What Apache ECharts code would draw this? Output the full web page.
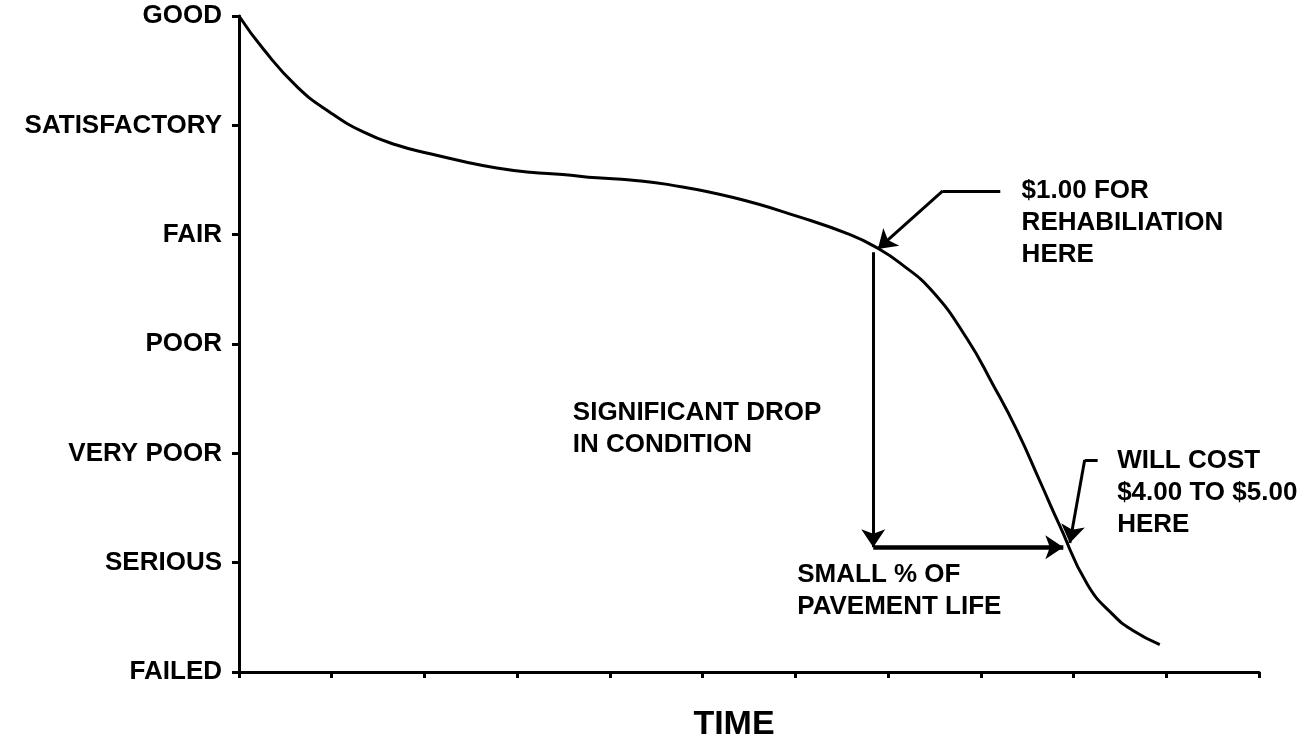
<!DOCTYPE html>
<html>
<head>
<meta charset="utf-8">
<script src="https://cdn.jsdelivr.net/npm/echarts@6/dist/echarts.min.js"></script>
<style>
html,body{margin:0;padding:0;background:#fff;}
#c{width:1309px;height:740px;}
</style>
</head>
<body>
<div id="c"></div>
<script>
// Condition levels (y = 0 .. 6)
const conditionLabels = ['FAILED', 'SERIOUS', 'VERY POOR', 'POOR', 'FAIR', 'SATISFACTORY', 'GOOD'];
// Time axis ticks 0..11 (no labels)
const timeMin = 0, timeMax = 11;

// Pavement condition curve [time, condition]
const curveTime = [0, 0.26, 0.63, 0.98, 1.34, 1.70, 2.06, 2.42, 2.78, 3.14, 3.49, 3.86, 4.22, 4.62, 5.33, 6.05, 6.59, 6.88, 7.13, 7.48, 7.85, 8.13, 8.39, 8.64, 8.85, 9.15, 9.43, 9.64, 9.93];
const curveCond = [6.00, 5.70, 5.35, 5.12, 4.94, 4.82, 4.74, 4.67, 4.61, 4.57, 4.55, 4.52, 4.50, 4.46, 4.34, 4.16, 4.00, 3.88, 3.74, 3.48, 3.05, 2.63, 2.21, 1.74, 1.34, 0.80, 0.52, 0.38, 0.25];

// Annotation arrows (polylines in data units, arrowhead at the last point)
const arrowRehab = [[8.21, 4.40], [7.59, 4.40], [6.89, 3.87]];
const arrowDrop = [[6.84, 3.84], [6.84, 1.14]];
const arrowLife = [[6.84, 1.14], [8.89, 1.14]];
const arrowCost = [[9.26, 1.94], [9.12, 1.94], [8.96, 1.18]];

// Annotation texts [time, condition, text] (left edge, vertical middle of the block)
const notes = [
  [3.60, 2.22, 'SIGNIFICANT DROP\nIN CONDITION'],
  [6.02, 0.745, 'SMALL % OF\nPAVEMENT LIFE'],
  [8.44, 4.11, '$1.00 FOR\nREHABILIATION\nHERE'],
  [9.47, 1.64, 'WILL COST\n$4.00 TO $5.00\nHERE']
];
const xAxisName = 'TIME';

function segments(arrows, last) {
  const out = [];
  arrows.forEach(a => {
    for (let i = 0; i < a.length - 1; i++) {
      const isLast = i === a.length - 2;
      if (isLast === last) out.push({coords: [a[i], a[i + 1]]});
    }
  });
  return out;
}

const font = '"Liberation Sans", Arial, sans-serif';
const thinArrows = [arrowRehab, arrowDrop, arrowCost];
const chart = echarts.init(document.getElementById('c'));
chart.setOption({
  animation: false,
  backgroundColor: '#fff',
  grid: {left: 239, right: 50, top: 16, bottom: 68, containLabel: false, outerBoundsMode: 'none'},
  xAxis: {
    type: 'value', min: timeMin, max: timeMax, interval: 1,
    name: xAxisName, nameLocation: 'middle', nameGap: 36,
    nameTextStyle: {fontFamily: font, fontWeight: 'bold', fontSize: 34, color: '#000', padding: [0, 30, 0, 0]},
    axisLine: {show: true, lineStyle: {color: '#000', width: 3}},
    axisTick: {show: true, length: 6, lineStyle: {color: '#000', width: 3}},
    axisLabel: {show: false},
    splitLine: {show: false}
  },
  yAxis: {
    type: 'value', min: 0, max: 6, interval: 1,
    axisLine: {show: true, lineStyle: {color: '#000', width: 3}},
    axisTick: {show: true, length: 7, lineStyle: {color: '#000', width: 3}},
    axisLabel: {
      margin: 17, color: '#000', fontFamily: font, fontWeight: 'bold', fontSize: 26,
      formatter: v => conditionLabels[Math.round(v)] || ''
    },
    splitLine: {show: false}
  },
  series: [
    {
      type: 'line', smooth: 0.5, showSymbol: false, silent: true,
      data: curveTime.map((t, i) => [t, curveCond[i]]),
      lineStyle: {color: '#000', width: 3}
    },
    {
      type: 'lines', coordinateSystem: 'cartesian2d', silent: true,
      symbol: 'none',
      lineStyle: {color: '#000', width: 3, opacity: 1},
      data: segments(thinArrows, false)
    },
    {
      type: 'lines', coordinateSystem: 'cartesian2d', silent: true,
      symbol: ['none', 'arrow'], symbolSize: [12, 18],
      lineStyle: {color: '#000', width: 3, opacity: 1},
      data: segments(thinArrows, true)
    },
    {
      type: 'lines', coordinateSystem: 'cartesian2d', silent: true,
      symbol: ['none', 'arrow'], symbolSize: [13, 18],
      lineStyle: {color: '#000', width: 4.5, opacity: 1},
      data: segments([arrowLife], true)
    },
    {
      type: 'scatter', symbolSize: 0, silent: true,
      itemStyle: {opacity: 1},
      data: notes.map(n => ({value: [n[0], n[1]], name: n[2]})),
      label: {
        show: true, position: 'right', distance: 0,
        formatter: p => p.name,
        color: '#000', fontFamily: font, fontWeight: 'bold', fontSize: 26, lineHeight: 32, align: 'left'
      }
    }
  ]
});
</script>
</body>
</html>
